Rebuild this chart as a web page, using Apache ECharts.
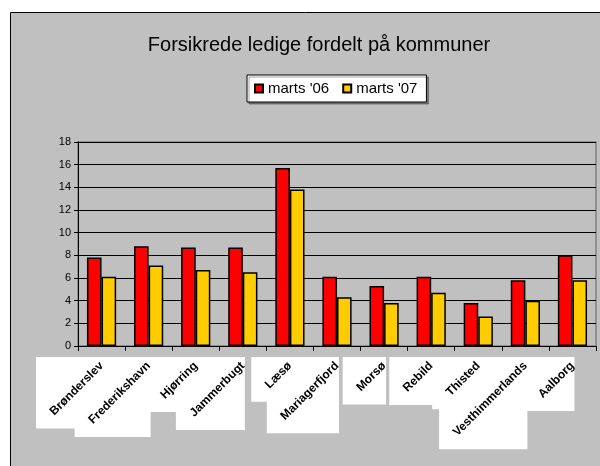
<!DOCTYPE html>
<html>
<head>
<meta charset="utf-8">
<script src="https://cdn.jsdelivr.net/npm/echarts@6/dist/echarts.min.js"></script>
<style>
  html, body { margin: 0; padding: 0; background: #fff; }
  #chart { width: 600px; height: 466px; }
</style>
</head>
<body>
<div id="chart"></div>
<script>
// kommuner (Nordjylland)
const kommuner = ["Brønderslev", "Frederikshavn", "Hjørring", "Jammerbugt", "Læsø",
  "Mariagerfjord", "Morsø", "Rebild", "Thisted", "Vesthimmerlands", "Aalborg"];
const marts06 = [7.8, 8.8, 8.7, 8.7, 15.7, 6.1, 5.3, 6.1, 3.8, 5.8, 8.0];
const marts07 = [6.1, 7.1, 6.7, 6.5, 13.8, 4.3, 3.8, 4.7, 2.6, 4.0, 5.8];

const FONT = "Liberation Sans, Arial, sans-serif";
const LABEL_SIZE = 12;
const ROT = 45;

const chart = echarts.init(document.getElementById("chart"));

const bgRect = {
  type: "rect",
  z: -10,
  shape: { x: 10.5, y: 12.5, width: 620, height: 480 },
  style: { fill: "#c0c0c0", stroke: "#000", lineWidth: 1 }
};

const option = {
  animation: false,
  textStyle: { fontFamily: FONT },
  graphic: [bgRect],
  title: {
    text: "Forsikrede ledige fordelt på kommuner",
    left: 314,
    textAlign: "center",
    top: 30,
    textStyle: { fontSize: 20, fontWeight: "normal", color: "#000", fontFamily: FONT }
  },
  legend: {
    data: ["marts '06", "marts '07"],
    left: 247,
    top: 75,
    padding: [6, 9, 6, 7],
    itemGap: 13,
    itemWidth: 8,
    itemHeight: 8,
    backgroundColor: "#fff",
    borderColor: "#000",
    borderWidth: 1,
    shadowColor: "rgba(0,0,0,0.35)",
    shadowOffsetX: 2,
    shadowOffsetY: 2,
    icon: "rect",
    textStyle: { fontSize: 15, color: "#000", fontFamily: FONT }
  },
  grid: {
    left: 78,
    right: 4,
    top: 142,
    bottom: 120,
    show: true,
    borderColor: "#808080",
    borderWidth: 1.5,
    backgroundColor: "transparent"
  },
  xAxis: {
    type: "category",
    data: kommuner,
    axisLine: { lineStyle: { color: "#000", width: 1 } },
    axisTick: { show: true, length: 5, lineStyle: { color: "#000" } },
    axisLabel: {
      interval: 0,
      rotate: ROT,
      margin: 18,
      fontSize: LABEL_SIZE,
      fontWeight: "bold",
      color: "#000"
    }
  },
  yAxis: {
    type: "value",
    min: 0,
    max: 18,
    interval: 2,
    axisLine: { show: true, lineStyle: { color: "#000", width: 1 } },
    axisTick: { show: true, length: 4, lineStyle: { color: "#000" } },
    axisLabel: { fontSize: 11, color: "#000", margin: 7 },
    splitLine: { lineStyle: { color: "#000", width: 1 } }
  },
  series: [
    {
      name: "marts '06",
      type: "bar",
      data: marts06,
      barGap: "0%",
      barCategoryGap: "38%",
      itemStyle: { color: "#ff0000", borderColor: "#000", borderWidth: 1.5 }
    },
    {
      name: "marts '07",
      type: "bar",
      data: marts07,
      itemStyle: { color: "#ffcc00", borderColor: "#000", borderWidth: 1.5 }
    }
  ]
};

chart.setOption(option);

// white boxes behind the rotated category labels
const ctx = document.createElement("canvas").getContext("2d");
ctx.font = "bold " + LABEL_SIZE + "px " + FONT;
const axisY = chart.convertToPixel({ yAxisIndex: 0 }, 0);
const rad = ROT * Math.PI / 180;
const boxes = kommuner.map((name, i) => {
  const cx = chart.convertToPixel({ xAxisIndex: 0 }, i);
  const w = ctx.measureText(name).width;
  const dx = w * Math.cos(rad);
  const dy = w * Math.sin(rad);
  const right = cx + 2;
  const top = axisY + 11;
  return {
    type: "rect",
    z: -5,
    shape: { x: right - dx - 18, y: top, width: dx + 18, height: dy + 22 },
    style: { fill: "#fff" }
  };
});
chart.setOption({ graphic: [bgRect].concat(boxes) }, { replaceMerge: ["graphic"] });
</script>
</body>
</html>
